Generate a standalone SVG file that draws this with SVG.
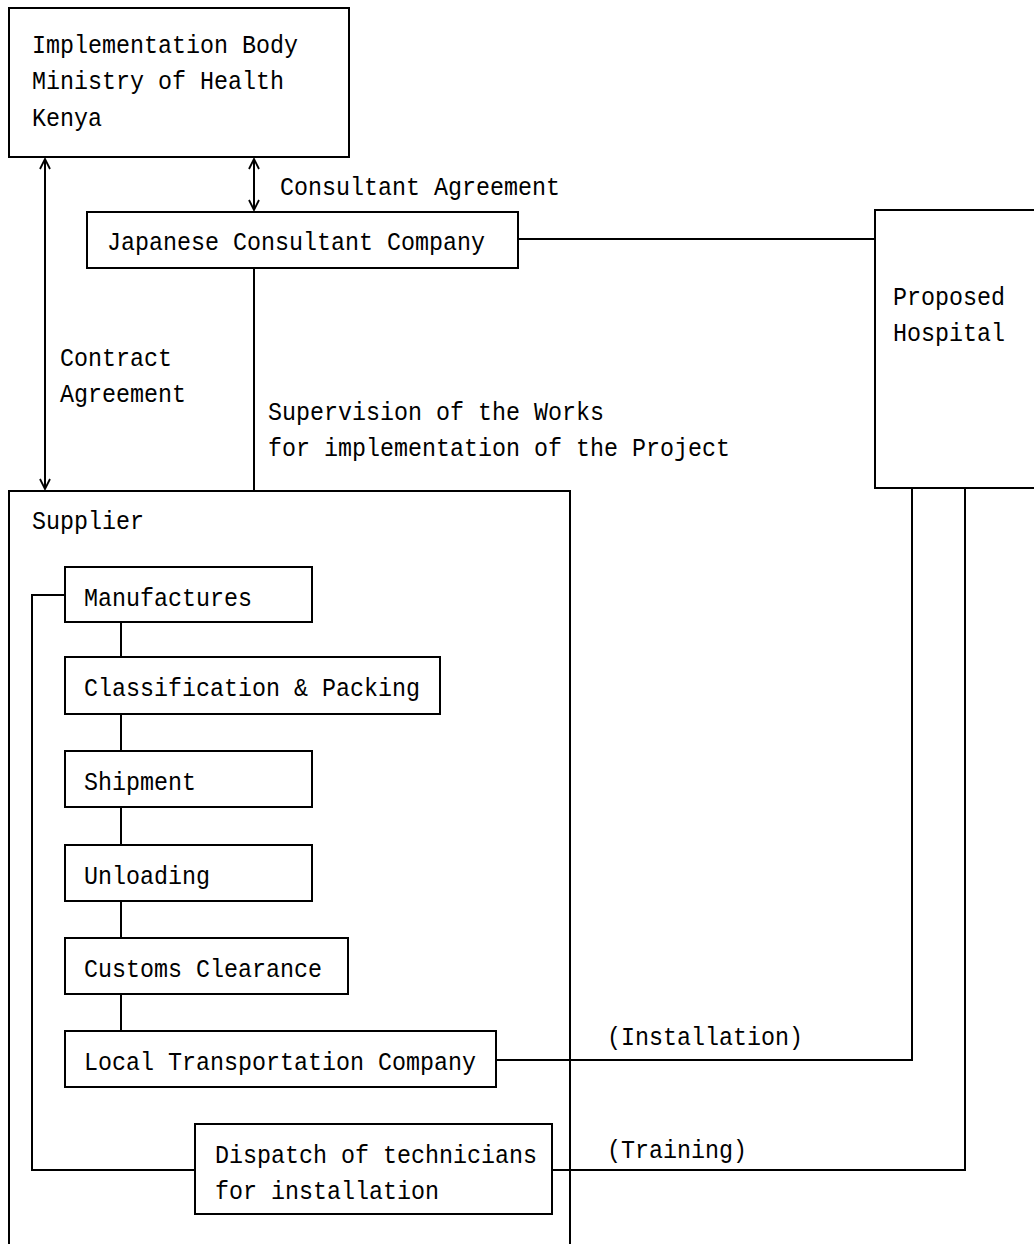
<svg xmlns="http://www.w3.org/2000/svg" width="1034" height="1244" viewBox="0 0 1034 1244">
<style>
.box{fill:#fff;stroke:#000;stroke-width:2}
.ln{fill:none;stroke:#000;stroke-width:2}
text{font-family:"Liberation Mono","DejaVu Sans Mono",monospace;font-size:26px;fill:#000}
</style>
<defs>
<marker id="ah" viewBox="0 0 12 12" refX="11" refY="6" markerWidth="12" markerHeight="12" markerUnits="userSpaceOnUse" orient="auto-start-reverse">
<path d="M1,1 L11,6 L1,11" fill="none" stroke="#000" stroke-width="1.8"/>
</marker>
</defs>
<rect width="1034" height="1244" fill="#fff"/>
<g id="connectors">
<line class="ln" x1="254" y1="159" x2="254" y2="210" marker-start="url(#ah)" marker-end="url(#ah)"/>
<line class="ln" x1="45" y1="159" x2="45" y2="489" marker-start="url(#ah)" marker-end="url(#ah)"/>
<line class="ln" x1="518" y1="239" x2="875" y2="239"/>
<line class="ln" x1="254" y1="268" x2="254" y2="491"/>
<line class="ln" x1="121" y1="622" x2="121" y2="657"/>
<line class="ln" x1="121" y1="714" x2="121" y2="751"/>
<line class="ln" x1="121" y1="807" x2="121" y2="845"/>
<line class="ln" x1="121" y1="901" x2="121" y2="938"/>
<line class="ln" x1="121" y1="994" x2="121" y2="1031"/>
<polyline class="ln" points="65,595 32,595 32,1170 195,1170"/>
<polyline class="ln" points="496,1060 912,1060 912,488"/>
<polyline class="ln" points="552,1170 965,1170 965,488"/>
<text x="280" y="195" textLength="280" lengthAdjust="spacingAndGlyphs">Consultant Agreement</text>
<text x="60" y="366" textLength="112" lengthAdjust="spacingAndGlyphs">Contract</text>
<text x="60" y="402" textLength="126" lengthAdjust="spacingAndGlyphs">Agreement</text>
<text x="268" y="420" textLength="336" lengthAdjust="spacingAndGlyphs">Supervision of the Works</text>
<text x="268" y="456" textLength="462" lengthAdjust="spacingAndGlyphs">for implementation of the Project</text>
<text x="607" y="1045" textLength="196" lengthAdjust="spacingAndGlyphs">(Installation)</text>
<text x="607" y="1158" textLength="140" lengthAdjust="spacingAndGlyphs">(Training)</text>
</g>
<g id="implementation-body">
<rect class="box" x="9" y="8" width="340" height="149"/>
<text x="32" y="53" textLength="266" lengthAdjust="spacingAndGlyphs">Implementation Body</text>
<text x="32" y="89" textLength="252" lengthAdjust="spacingAndGlyphs">Ministry of Health</text>
<text x="32" y="126" textLength="70" lengthAdjust="spacingAndGlyphs">Kenya</text>
</g>
<g id="japanese-consultant">
<rect class="box" x="87" y="212" width="431" height="56"/>
<text x="107" y="250" textLength="378" lengthAdjust="spacingAndGlyphs">Japanese Consultant Company</text>
</g>
<g id="proposed-hospital">
<rect class="box" x="875" y="210" width="170" height="278"/>
<text x="893" y="305" textLength="112" lengthAdjust="spacingAndGlyphs">Proposed</text>
<text x="893" y="341" textLength="112" lengthAdjust="spacingAndGlyphs">Hospital</text>
</g>
<g id="supplier">
<rect x="9" y="491" width="561" height="770" fill="none" stroke="#000" stroke-width="2"/>
<text x="32" y="529" textLength="112" lengthAdjust="spacingAndGlyphs">Supplier</text>
</g>
<g id="manufactures">
<rect class="box" x="65" y="567" width="247" height="55"/>
<text x="84" y="606" textLength="168" lengthAdjust="spacingAndGlyphs">Manufactures</text>
</g>
<g id="classification-packing">
<rect class="box" x="65" y="657" width="375" height="57"/>
<text x="84" y="696" textLength="336" lengthAdjust="spacingAndGlyphs">Classification &amp; Packing</text>
</g>
<g id="shipment">
<rect class="box" x="65" y="751" width="247" height="56"/>
<text x="84" y="790" textLength="112" lengthAdjust="spacingAndGlyphs">Shipment</text>
</g>
<g id="unloading">
<rect class="box" x="65" y="845" width="247" height="56"/>
<text x="84" y="884" textLength="126" lengthAdjust="spacingAndGlyphs">Unloading</text>
</g>
<g id="customs-clearance">
<rect class="box" x="65" y="938" width="283" height="56"/>
<text x="84" y="977" textLength="238" lengthAdjust="spacingAndGlyphs">Customs Clearance</text>
</g>
<g id="local-transportation">
<rect class="box" x="65" y="1031" width="431" height="56"/>
<text x="84" y="1070" textLength="392" lengthAdjust="spacingAndGlyphs">Local Transportation Company</text>
</g>
<g id="dispatch-technicians">
<rect class="box" x="195" y="1124" width="357" height="90"/>
<text x="215" y="1163" textLength="322" lengthAdjust="spacingAndGlyphs">Dispatch of technicians</text>
<text x="215" y="1199" textLength="224" lengthAdjust="spacingAndGlyphs">for installation</text>
</g>
</svg>
